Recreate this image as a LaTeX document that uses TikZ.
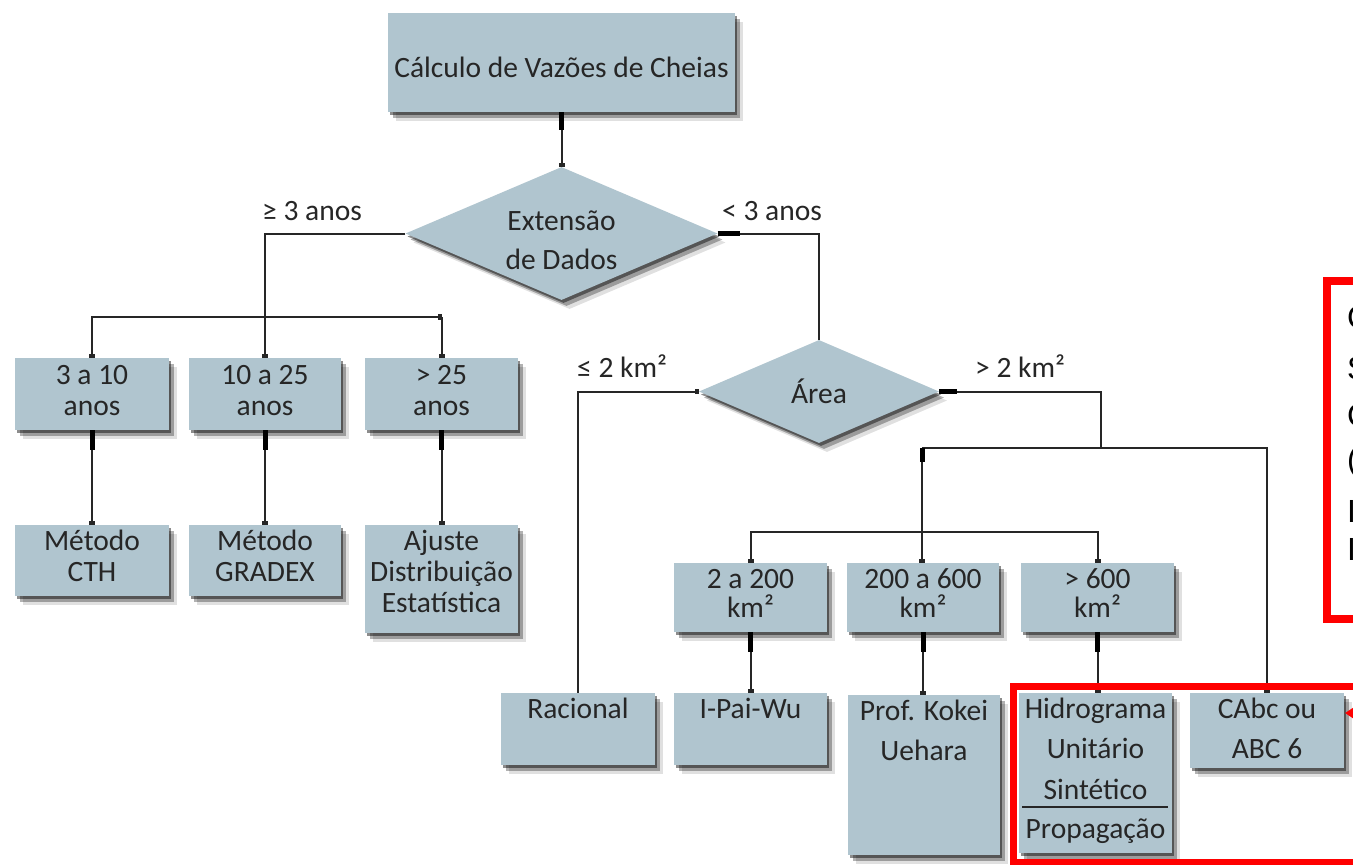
\documentclass[tikz,border=0pt]{standalone}
\usepackage{fontspec}
\setmainfont{Carlito}
\newfontfamily\redfont{Liberation Sans}
\usetikzlibrary{shapes.geometric,shadows,arrows.meta}
\definecolor{boxfill}{RGB}{176,197,207}
\definecolor{ink}{RGB}{38,38,38}
\begin{document}
\begin{tikzpicture}[x=1pt,y=-1pt,
  shd/.style={drop shadow={shadow xshift=2pt,shadow yshift=-3pt,opacity=.45,fill=black},
              drop shadow={shadow xshift=5pt,shadow yshift=-6pt,opacity=.3,fill=black},
              drop shadow={shadow xshift=8pt,shadow yshift=-9pt,opacity=.12,fill=black}},
  box/.style={rectangle,fill=boxfill,draw=none,inner sep=0pt,shd},
  dia/.style={diamond,fill=boxfill,draw=none,inner sep=0pt,shd},
  txt/.style={font=\fontsize{29.5}{30}\selectfont,text=ink,inner sep=0pt,anchor=base},
  redtxt/.style={font=\redfont\fontsize{32}{32}\selectfont,text=black,inner sep=0pt,anchor=base west},
  conn/.style={draw=black!85,line width=2pt},
  sq/.style={-{Square[length=4pt,width=6pt]}},
  stubline/.style={draw=black,line width=5pt},
  redline/.style={draw=red,line width=8pt}
]
\fill[white] (0,0) rectangle (1353,865);
\useasboundingbox (0,0) rectangle (1353,865);

% ---------- boxes ----------
\node[box,minimum width=347pt,minimum height=99pt] (top) at (561.5,62.5) {};
\node[dia,minimum width=312pt,minimum height=133pt] (ext) at (561.5,233.5) {};

\node[box,minimum width=154pt,minimum height=72pt] (b1) at (92,394) {};
\node[box,minimum width=152pt,minimum height=72pt] (b2) at (265,394) {};
\node[box,minimum width=153pt,minimum height=72pt] (b3) at (441.5,394) {};

\node[box,minimum width=154pt,minimum height=71pt] (m1) at (92,560.5) {};
\node[box,minimum width=152pt,minimum height=71pt] (m2) at (265,560.5) {};
\node[box,minimum width=153pt,minimum height=108pt] (m3) at (441.5,579) {};

\node[dia,minimum width=240pt,minimum height=103pt] (area) at (819,391.5) {};

\node[box,minimum width=153pt,minimum height=69pt] (r1) at (750.5,597.5) {};
\node[box,minimum width=152pt,minimum height=69pt] (r2) at (923,597.5) {};
\node[box,minimum width=153pt,minimum height=69pt] (r3) at (1097.5,597.5) {};

\node[box,minimum width=154pt,minimum height=72pt] (rac) at (578,729) {};
\node[box,minimum width=153pt,minimum height=72pt] (ipai) at (750.5,729) {};
\node[box,minimum width=152pt,minimum height=160pt] (kokei) at (924,775) {};
\node[box,minimum width=153pt,minimum height=160pt] (hidro) at (1095.5,773) {};
\node[box,minimum width=154pt,minimum height=75pt] (cabc) at (1267,730.5) {};

% ---------- texts ----------
\node[txt] (ttop) at (561.5,77) {Cálculo de Vazões de Cheias};
\node[txt] (text1) at (561.5,230) {Extensão};
\node[txt] (text2) at (561.5,269) {de Dados};
\node[txt,anchor=base west] (lge) at (262,220) {≥ 3 anos};
\node[txt,anchor=base west] (llt) at (722,220) {< 3 anos};

\node[txt] (tb1a) at (92,384) {3 a 10};
\node[txt] (tb1b) at (92,415) {anos};
\node[txt] (tb2a) at (265,384) {10 a 25};
\node[txt] (tb2b) at (265,415) {anos};
\node[txt] (tb3a) at (441.5,384) {> 25};
\node[txt] (tb3b) at (441.5,415) {anos};

\node[txt] (tm1a) at (92,550) {Método};
\node[txt] (tm1b) at (92,581) {CTH};
\node[txt] (tm2a) at (265,550) {Método};
\node[txt] (tm2b) at (265,581) {GRADEX};
\node[txt] (tm3a) at (441.5,550) {Ajuste};
\node[txt] (tm3b) at (441.5,581) {Distribuição};
\node[txt] (tm3c) at (441.5,612) {Estatística};

\node[txt] (tarea) at (819,403) {Área};
\node[txt,anchor=base west] (lle) at (577,377) {≤ 2 km²};
\node[txt,anchor=base west] (lgt) at (975,377) {> 2 km²};

\node[txt] (tr1a) at (750.5,588) {2 a 200};
\node[txt] (tr1b) at (750.5,617) {km²};
\node[txt] (tr2a) at (923,588) {200 a 600};
\node[txt] (tr2b) at (923,617) {km²};
\node[txt] (tr3a) at (1097.5,588) {> 600};
\node[txt] (tr3b) at (1097.5,617) {km²};

\node[txt] (trac) at (578,718) {Racional};
\node[txt] (tipai) at (750.5,718) {I-Pai-Wu};
\node[txt] (tkok1) at (924,720) {Prof. Kokei};
\node[txt] (tkok2) at (924,760) {Uehara};
\node[txt] (thid1) at (1095.5,718) {Hidrograma};
\node[txt] (thid2) at (1095.5,758) {Unitário};
\node[txt] (thid3) at (1095.5,799) {Sintético};
\node[txt] (thid4) at (1095.5,838) {Propagação};
\draw[draw=black!85,line width=1.5pt] (1022,807) -- (1168,807);
\node[txt] (tcab1) at (1267,718) {CAbc ou};
\node[txt] (tcab2) at (1267,758) {ABC 6};

% ---------- connectors ----------
\draw[conn,sq] (top.south) -- (ext.north);
\draw[stubline] (top.south) -- ++(0,18);

\draw[conn,sq] (ext.west) -| (b2.north);
\coordinate (busR) at (441.5,317);
\draw[conn,{Square[length=4pt,width=6pt]}-{Square[length=4pt,width=6pt]}] (busR) -| (b1.north);
\draw[conn,sq] (busR) -- (b3.north);

\draw[conn,sq] (b1.south) -- (m1.north);
\draw[conn,sq] (b2.south) -- (m2.north);
\draw[conn,sq] (b3.south) -- (m3.north);
\draw[stubline] (b1.south) -- ++(0,20);
\draw[stubline] (b2.south) -- ++(0,20);
\draw[stubline] (b3.south) -- ++(0,20);

\draw[conn] (ext.east) -| (area.north);
\draw[stubline] (ext.east) -- ++(22,0);

\draw[conn,{Square[length=4pt,width=5pt]}-] (area.west) -| (rac.north);

\coordinate (j1) at (1100.5,448);
\coordinate (busA) at (922,448);
\draw[conn] (area.east) -| (j1);
\draw[stubline] (area.east) -- ++(18,0);
\draw[conn,sq] (busA) -| (cabc.north);
\draw[conn,sq] (busA) -- (busA |- r2.north);
\draw[stubline] (busA) -- ++(0,14);
\coordinate (rb) at (922,532);
\draw[conn,sq] (rb) -| (r1.north);
\draw[conn,sq] (rb) -| (r3.north);

\draw[conn,sq] (r1.south) -- (r1.south |- ipai.north);
\draw[conn,sq] (r2.south) -- (r2.south |- kokei.north);
\draw[conn,sq] (r3.south) -- (r3.south |- hidro.north);
\draw[stubline] (r1.south) -- ++(0,20);
\draw[stubline] (r2.south) -- ++(0,20);
\draw[stubline] (r3.south) -- ++(0,20);

% ---------- red annotations ----------
\draw[redline] (1327,281) rectangle (1440,619);
\draw[redline,line width=7pt] (1013.5,686.5) rectangle (1440,862.5);
\coordinate (redtip) at (1345,713);
\coordinate (redtail) at (1440,713);
\draw[draw=red,line width=5pt,-{Triangle[length=12pt,width=15pt]}] (redtail) -- (redtip);

\node[redtxt] (c1) at (1347,328) {C};
\node[redtxt] (c2) at (1347,379) {S};
\node[redtxt] (c3) at (1347,426) {C};
\node[redtxt] (c4) at (1347,470) {(};
\node[redtxt] (c5) at (1347,522) {I};
\node[redtxt] (c6) at (1347,560) {I};
\end{tikzpicture}
\end{document}
